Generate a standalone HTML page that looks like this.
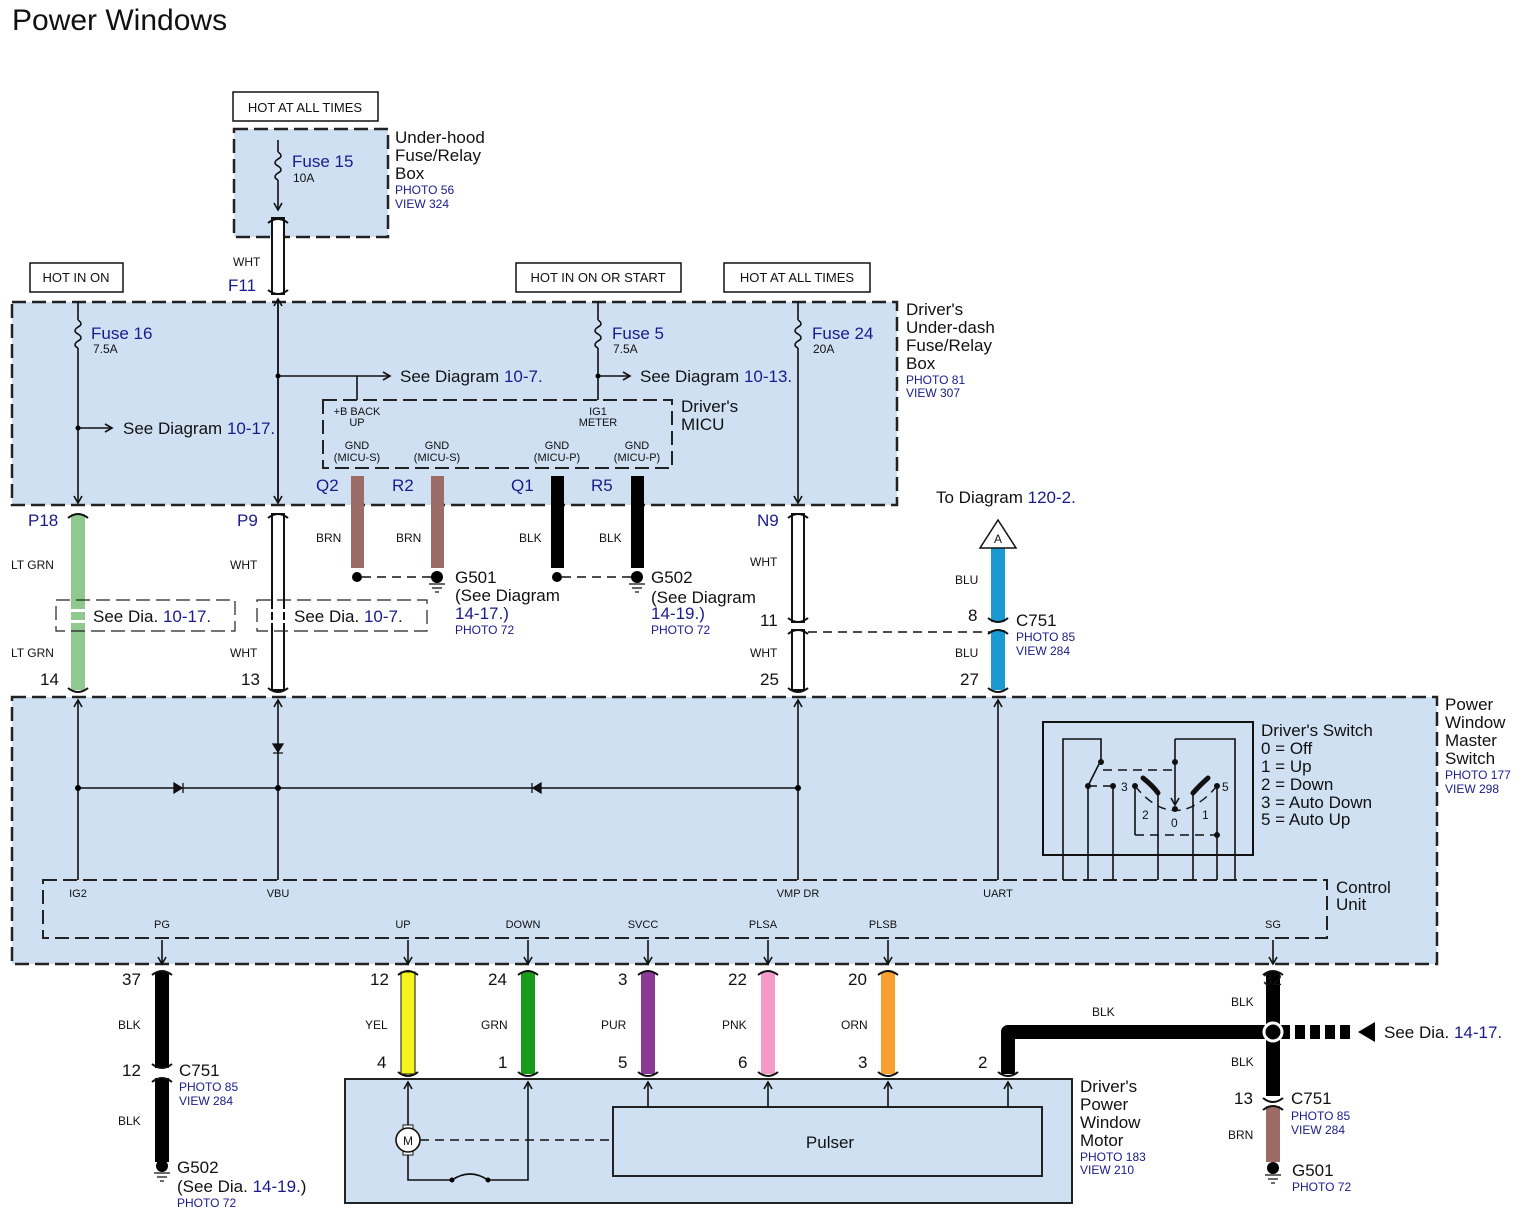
<!DOCTYPE html>
<html><head><meta charset="utf-8"><style>
html,body{margin:0;padding:0;background:#fff}
svg{display:block}
text{font-family:"Liberation Sans",Arial,sans-serif;fill:#111}
.b{fill:#1a1a8c}
.s12{font-size:12px}.s11{font-size:11px}.s17{font-size:17px}.s13{font-size:13px}
.box{fill:#cfe0f3;stroke:#222;stroke-width:2.5;stroke-dasharray:14 6}
.ln{stroke:#111;stroke-width:1.6;fill:none}
.dl{stroke:#111;stroke-width:1.4;fill:none;stroke-dasharray:9 6}
.cap{stroke:#111;stroke-width:2;fill:none}
</style></head><body>
<svg width="1536" height="1223" viewBox="0 0 1536 1223" xmlns="http://www.w3.org/2000/svg">
<defs>
<marker id="ar" markerWidth="10" markerHeight="10" refX="8" refY="5" orient="auto" markerUnits="userSpaceOnUse"><path d="M1 1 L8 5 L1 9" fill="none" stroke="#111" stroke-width="1.6"/></marker>
</defs>
<text x="12" y="30" style="font-size:30px">Power Windows</text>

<rect x="233" y="92" width="145" height="29" fill="#fff" stroke="#111" stroke-width="1.5"/>
<text x="305" y="112" class="s13" text-anchor="middle">HOT AT ALL TIMES</text>
<rect x="30" y="263" width="93" height="29" fill="#fff" stroke="#111" stroke-width="1.5"/>
<text x="76" y="282" class="s13" text-anchor="middle">HOT IN ON</text>
<rect x="516" y="263" width="165" height="29" fill="#fff" stroke="#111" stroke-width="1.5"/>
<text x="598" y="282" class="s13" text-anchor="middle">HOT IN ON OR START</text>
<rect x="724" y="263" width="146" height="29" fill="#fff" stroke="#111" stroke-width="1.5"/>
<text x="797" y="282" class="s13" text-anchor="middle">HOT AT ALL TIMES</text>

<rect x="234" y="129" width="154" height="108" class="box"/>
<path class="ln" d="M278 140 V152 M278 180 V210" marker-end="url(#ar)"/>
<path class="ln" d="M278 152 q6 4 0 7 q-6 4 0 7 q6 4 0 7 q-6 4 0 7"/>
<text x="292" y="167" class="s17 b">Fuse 15</text>
<text x="293" y="182" class="s12">10A</text>
<text x="395" y="143" class="s17">Under-hood</text>
<text x="395" y="161" class="s17">Fuse/Relay</text>
<text x="395" y="179" class="s17">Box</text>
<text x="395" y="194" class="s12 b">PHOTO 56</text>
<text x="395" y="208" class="s12 b">VIEW 324</text>
<rect x="272" y="218" width="12" height="76" fill="#fff" stroke="#111" stroke-width="2"/>
<path class="cap" d="M268 223 Q278 215 288 223 M268 290 Q278 298 288 290"/>
<text x="233" y="266" class="s12">WHT</text>
<text x="228" y="291" class="s17 b">F11</text>

<rect x="12" y="302" width="885" height="203" class="box"/>
<path class="ln" d="M78 302 V320 M78 348 V503" marker-end="url(#ar)"/>
<path class="ln" d="M78 320 q6 4 0 7 q-6 4 0 7 q6 4 0 7 q-6 4 0 7"/>
<text x="91" y="339" class="s17 b">Fuse 16</text><text x="93" y="353" class="s12">7.5A</text>
<path class="ln" d="M78 428 H112" marker-end="url(#ar)"/><circle cx="78" cy="428" r="2.5"/>
<text x="123" y="434" class="s17">See Diagram <tspan class="b">10-17.</tspan></text>
<path class="ln" d="M278 503 V299" marker-end="url(#ar)"/>
<path class="ln" d="M278 300 V503" marker-end="url(#ar)"/>
<path class="ln" d="M278 376 H390" marker-end="url(#ar)"/><circle cx="278" cy="376" r="2.5"/>
<text x="400" y="382" class="s17">See Diagram <tspan class="b">10-7.</tspan></text>
<path class="ln" d="M357 376 V400"/>
<path class="ln" d="M598 302 V320 M598 348 V400"/>
<path class="ln" d="M598 320 q6 4 0 7 q-6 4 0 7 q6 4 0 7 q-6 4 0 7"/>
<text x="612" y="339" class="s17 b">Fuse 5</text><text x="613" y="353" class="s12">7.5A</text>
<path class="ln" d="M598 376 H630" marker-end="url(#ar)"/><circle cx="598" cy="376" r="2.5"/>
<text x="640" y="382" class="s17">See Diagram <tspan class="b">10-13.</tspan></text>
<path class="ln" d="M798 302 V320 M798 348 V503" marker-end="url(#ar)"/>
<path class="ln" d="M798 320 q6 4 0 7 q-6 4 0 7 q6 4 0 7 q-6 4 0 7"/>
<text x="812" y="339" class="s17 b">Fuse 24</text><text x="813" y="353" class="s12">20A</text>
<rect x="323" y="400" width="349" height="68" class="box" style="stroke-width:2"/>
<g class="s11" text-anchor="middle">
<text x="357" y="415">+B BACK</text><text x="357" y="426">UP</text>
<text x="598" y="415">IG1</text><text x="598" y="426">METER</text>
<text x="357" y="449">GND</text><text x="357" y="461">(MICU-S)</text>
<text x="437" y="449">GND</text><text x="437" y="461">(MICU-S)</text>
<text x="557" y="449">GND</text><text x="557" y="461">(MICU-P)</text>
<text x="637" y="449">GND</text><text x="637" y="461">(MICU-P)</text>
</g>
<text x="681" y="412" class="s17">Driver's</text><text x="681" y="430" class="s17">MICU</text>
<text x="906" y="315" class="s17">Driver's</text>
<text x="906" y="333" class="s17">Under-dash</text>
<text x="906" y="351" class="s17">Fuse/Relay</text>
<text x="906" y="369" class="s17">Box</text>
<text x="906" y="384" class="s12 b">PHOTO 81</text>
<text x="906" y="397" class="s12 b">VIEW 307</text>

<rect x="351" y="476" width="13" height="92" fill="#9b6b66"/>
<rect x="431" y="476" width="13" height="92" fill="#9b6b66"/>
<rect x="551" y="476" width="13" height="92" fill="#000"/>
<rect x="631" y="476" width="13" height="92" fill="#000"/>
<text x="316" y="491" class="s17 b">Q2</text><text x="392" y="491" class="s17 b">R2</text>
<text x="511" y="491" class="s17 b">Q1</text><text x="591" y="491" class="s17 b">R5</text>
<text x="316" y="542" class="s12">BRN</text><text x="396" y="542" class="s12">BRN</text>
<text x="519" y="542" class="s12">BLK</text><text x="599" y="542" class="s12">BLK</text>
<circle cx="357" cy="577" r="5"/><circle cx="557" cy="577" r="5"/>
<path class="dl" d="M362 577 H432 M562 577 H632"/>
<circle cx="437" cy="577" r="6"/><path d="M429 584 H445 M432 588 H442 M435 592 H439" stroke="#111" stroke-width="1.3"/>
<circle cx="637" cy="577" r="6"/><path d="M629 584 H645 M632 588 H642 M635 592 H639" stroke="#111" stroke-width="1.3"/>
<text x="455" y="583" class="s17">G501</text><text x="455" y="601" class="s17">(See Diagram</text>
<text x="455" y="619" class="s17 b">14-17.)</text><text x="455" y="634" class="s12 b">PHOTO 72</text>
<text x="651" y="583" class="s17">G502</text><text x="651" y="603" class="s17">(See Diagram</text>
<text x="651" y="619" class="s17 b">14-19.)</text><text x="651" y="634" class="s12 b">PHOTO 72</text>

<rect x="71" y="514" width="14" height="176" fill="#8fc98f"/>
<rect x="272" y="514" width="12" height="176" fill="#fff" stroke="#111" stroke-width="2"/>
<rect x="792" y="514" width="12" height="108" fill="#fff" stroke="#111" stroke-width="2"/>
<rect x="792" y="630" width="12" height="60" fill="#fff" stroke="#111" stroke-width="2"/>
<rect x="991" y="548" width="14" height="74" fill="#1b9ad2"/>
<rect x="991" y="630" width="14" height="60" fill="#1b9ad2"/>
<path class="cap" d="M68 518 Q78 510 88 518 M68 688 Q78 696 88 688 M268 518 Q278 510 288 518 M268 688 Q278 696 288 688 M788 518 Q798 510 808 518 M788 618 Q798 626 808 618 M788 634 Q798 626 808 634 M788 688 Q798 696 808 688 M988 618 Q998 626 1008 618 M988 634 Q998 626 1008 634 M988 688 Q998 696 1008 688"/>
<path d="M998 520 L1016 548 H980 Z" fill="#fff" stroke="#111" stroke-width="1.5"/>
<text x="998" y="543" class="s12" text-anchor="middle">A</text>
<text x="936" y="503" class="s17">To Diagram <tspan class="b">120-2.</tspan></text>
<rect x="56" y="600" width="179" height="31" fill="none" stroke="#222" stroke-width="1.2" stroke-dasharray="14 6"/>
<rect x="257" y="600" width="170" height="31" fill="none" stroke="#222" stroke-width="1.2" stroke-dasharray="14 6"/>
<rect x="68" y="609" width="20" height="3" fill="#fff"/><rect x="68" y="620" width="20" height="3" fill="#fff"/>
<rect x="268" y="609" width="20" height="3" fill="#fff"/><rect x="268" y="620" width="20" height="3" fill="#fff"/>
<text x="93" y="622" class="s17">See Dia. <tspan class="b">10-17.</tspan></text>
<text x="294" y="622" class="s17">See Dia. <tspan class="b">10-7.</tspan></text>
<text x="28" y="526" class="s17 b">P18</text><text x="237" y="526" class="s17 b">P9</text><text x="757" y="526" class="s17 b">N9</text>
<text x="11" y="569" class="s12">LT GRN</text><text x="230" y="569" class="s12">WHT</text>
<text x="11" y="657" class="s12">LT GRN</text><text x="230" y="657" class="s12">WHT</text>
<text x="40" y="685" class="s17">14</text><text x="241" y="685" class="s17">13</text>
<text x="750" y="566" class="s12">WHT</text><text x="750" y="657" class="s12">WHT</text>
<text x="760" y="626" class="s17">11</text><text x="760" y="685" class="s17">25</text>
<text x="955" y="584" class="s12">BLU</text><text x="955" y="657" class="s12">BLU</text>
<text x="968" y="621" class="s17">8</text><text x="960" y="685" class="s17">27</text>
<text x="1016" y="626" class="s17">C751</text><text x="1016" y="641" class="s12 b">PHOTO 85</text><text x="1016" y="655" class="s12 b">VIEW 284</text>
<path class="dl" d="M808 632 H990"/>

<rect x="12" y="697" width="1425" height="267" class="box"/>
<text x="1445" y="710" class="s17">Power</text><text x="1445" y="728" class="s17">Window</text>
<text x="1445" y="746" class="s17">Master</text><text x="1445" y="764" class="s17">Switch</text>
<text x="1445" y="779" class="s12 b">PHOTO 177</text><text x="1445" y="793" class="s12 b">VIEW 298</text>
<path class="ln" d="M78 880 V700" marker-end="url(#ar)"/>
<path class="ln" d="M278 880 V700" marker-end="url(#ar)"/>
<path class="ln" d="M798 880 V700" marker-end="url(#ar)"/>
<path class="ln" d="M998 880 V700" marker-end="url(#ar)"/>
<path class="ln" d="M78 788 H798"/>
<circle cx="78" cy="788" r="3"/><circle cx="278" cy="788" r="3"/><circle cx="798" cy="788" r="3"/>
<path d="M174 783 L182 788 L174 793 Z M183 783 V793" fill="#111" stroke="#111" stroke-width="1.3"/>
<path d="M541 783 L533 788 L541 793 Z M532 783 V793" fill="#111" stroke="#111" stroke-width="1.3"/>
<path d="M273 744 L278 752 L283 744 Z M273 753 H283" fill="#111" stroke="#111" stroke-width="1.3"/>
<rect x="43" y="880" width="1284" height="58" class="box" style="stroke-width:2"/>
<g class="s11" text-anchor="middle">
<text x="78" y="897">IG2</text><text x="278" y="897">VBU</text><text x="798" y="897">VMP DR</text><text x="998" y="897">UART</text>
<text x="162" y="928">PG</text><text x="403" y="928">UP</text><text x="523" y="928">DOWN</text><text x="643" y="928">SVCC</text>
<text x="763" y="928">PLSA</text><text x="883" y="928">PLSB</text><text x="1273" y="928">SG</text>
</g>
<text x="1336" y="893" class="s17">Control</text><text x="1336" y="910" class="s17">Unit</text>
<rect x="1043" y="722" width="210" height="133" fill="none" stroke="#111" stroke-width="2"/>
<path class="ln" d="M1063 880 V739 H1101 V760 L1088 786 V880"/>
<path class="dl" d="M1088 786 H1113 M1103 770 H1175"/>
<path class="ln" d="M1113 786 V880 M1135 786 V835 M1158 793 V880 M1193 793 V880 M1217 786 V880 M1175 739 H1235 V880"/>
<path class="dl" d="M1135 835 H1217"/>
<path class="ln" d="M1175 739 V805" marker-end="url(#ar)"/>
<path class="dl" d="M1135 786 Q1175 835 1217 786"/>
<path d="M1143 778 Q1153 786 1158 793 M1193 793 Q1199 786 1208 778" stroke="#111" stroke-width="5" fill="none" stroke-linecap="round"/>
<g fill="#111"><circle cx="1101" cy="762" r="3"/><circle cx="1088" cy="786" r="3"/><circle cx="1113" cy="786" r="3"/><circle cx="1135" cy="786" r="3"/><circle cx="1217" cy="786" r="3"/><circle cx="1175" cy="762" r="3"/><circle cx="1175" cy="809" r="3"/><circle cx="1217" cy="835" r="3"/></g>
<text x="1121" y="791" class="s12">3</text><text x="1222" y="791" class="s12">5</text>
<text x="1142" y="819" class="s12">2</text><text x="1171" y="827" class="s12">0</text><text x="1202" y="819" class="s12">1</text>
<text x="1261" y="736" class="s17">Driver's Switch</text>
<text x="1261" y="754" class="s17">0 = Off</text><text x="1261" y="772" class="s17">1 = Up</text>
<text x="1261" y="790" class="s17">2 = Down</text><text x="1261" y="808" class="s17">3 = Auto Down</text>
<text x="1261" y="825" class="s17">5 = Auto Up</text>

<path class="ln" d="M162 940 V964" marker-end="url(#ar)"/>
<path class="ln" d="M408 940 V964" marker-end="url(#ar)"/>
<path class="ln" d="M528 940 V964" marker-end="url(#ar)"/>
<path class="ln" d="M648 940 V964" marker-end="url(#ar)"/>
<path class="ln" d="M768 940 V964" marker-end="url(#ar)"/>
<path class="ln" d="M888 940 V964" marker-end="url(#ar)"/>
<path class="ln" d="M1273 940 V964" marker-end="url(#ar)"/>
<rect x="155" y="972" width="14" height="96" fill="#000"/>
<rect x="155" y="1078" width="14" height="84" fill="#000"/>
<rect x="401" y="972" width="14" height="102" fill="#f5f51e" stroke="#111" stroke-width="1"/>
<rect x="521" y="972" width="14" height="102" fill="#1a9a1a"/>
<rect x="641" y="972" width="14" height="102" fill="#8b3a96"/>
<rect x="761" y="972" width="14" height="102" fill="#f39ac8"/>
<rect x="881" y="972" width="14" height="102" fill="#f7a030"/>
<rect x="1266" y="972" width="14" height="124" fill="#000"/>
<rect x="1266" y="1106" width="14" height="56" fill="#9b6b66"/>
<path d="M1008 1074 V1032 H1273" stroke="#000" stroke-width="14" fill="none" stroke-linejoin="round"/>
<path d="M1280 1032 H1355" stroke="#000" stroke-width="14" stroke-dasharray="10 5"/>
<path d="M1375 1022 L1358 1032 L1375 1042 Z" fill="#000"/>
<circle cx="1273" cy="1032" r="9" fill="#000" stroke="#fff" stroke-width="3"/>
<path class="cap" d="M152 975 Q162 967 172 975 M152 1064 Q162 1072 172 1064 M152 1082 Q162 1074 172 1082 M398 975 Q408 967 418 975 M398 1072 Q408 1080 418 1072 M518 975 Q528 967 538 975 M518 1072 Q528 1080 538 1072 M638 975 Q648 967 658 975 M638 1072 Q648 1080 658 1072 M758 975 Q768 967 778 975 M758 1072 Q768 1080 778 1072 M878 975 Q888 967 898 975 M878 1072 Q888 1080 898 1072 M998 1072 Q1008 1080 1018 1072 M1263 975 Q1273 967 1283 975 M1263 1098 Q1273 1106 1283 1098 M1263 1110 Q1273 1102 1283 1110"/>
<circle cx="162" cy="1166" r="6"/><path d="M154 1173 H170 M157 1177 H167 M160 1181 H164" stroke="#111" stroke-width="1.3"/>
<circle cx="1273" cy="1168" r="6"/><path d="M1265 1175 H1281 M1268 1179 H1278 M1271 1183 H1275" stroke="#111" stroke-width="1.3"/>
<text x="122" y="985" class="s17">37</text><text x="370" y="985" class="s17">12</text><text x="488" y="985" class="s17">24</text>
<text x="618" y="985" class="s17">3</text><text x="728" y="985" class="s17">22</text><text x="848" y="985" class="s17">20</text><text x="1263" y="985" class="s17">32</text>
<text x="118" y="1029" class="s12">BLK</text><text x="365" y="1029" class="s12">YEL</text><text x="481" y="1029" class="s12">GRN</text>
<text x="601" y="1029" class="s12">PUR</text><text x="722" y="1029" class="s12">PNK</text><text x="841" y="1029" class="s12">ORN</text>
<text x="377" y="1068" class="s17">4</text><text x="498" y="1068" class="s17">1</text><text x="618" y="1068" class="s17">5</text>
<text x="738" y="1068" class="s17">6</text><text x="858" y="1068" class="s17">3</text><text x="978" y="1068" class="s17">2</text>
<text x="122" y="1076" class="s17">12</text><text x="179" y="1076" class="s17">C751</text>
<text x="179" y="1091" class="s12 b">PHOTO 85</text><text x="179" y="1105" class="s12 b">VIEW 284</text>
<text x="118" y="1125" class="s12">BLK</text>
<text x="177" y="1173" class="s17">G502</text>
<text x="177" y="1192" class="s17">(See Dia. <tspan class="b">14-19.</tspan>)</text>
<text x="177" y="1207" class="s12 b">PHOTO 72</text>
<text x="1092" y="1016" class="s12">BLK</text><text x="1231" y="1006" class="s12">BLK</text><text x="1231" y="1066" class="s12">BLK</text>
<text x="1384" y="1038" class="s17">See  Dia. <tspan class="b">14-17.</tspan></text>
<text x="1234" y="1104" class="s17">13</text><text x="1291" y="1104" class="s17">C751</text>
<text x="1291" y="1120" class="s12 b">PHOTO 85</text><text x="1291" y="1134" class="s12 b">VIEW 284</text>
<text x="1228" y="1139" class="s12">BRN</text>
<text x="1292" y="1176" class="s17">G501</text><text x="1292" y="1191" class="s12 b">PHOTO 72</text>

<rect x="345" y="1079" width="727" height="124" fill="#cfe0f3" stroke="#222" stroke-width="2"/>
<rect x="613" y="1107" width="429" height="69" fill="none" stroke="#222" stroke-width="2"/>
<text x="830" y="1148" class="s17" text-anchor="middle">Pulser</text>
<path class="ln" d="M408 1126 V1082" marker-end="url(#ar)"/>
<path class="ln" d="M408 1154 V1180 H452 M488 1180 H528 V1082" marker-end="url(#ar)"/>
<path class="ln" d="M452 1180 Q470 1168 488 1180"/><circle cx="452" cy="1180" r="2.5"/><circle cx="488" cy="1180" r="2.5"/>
<rect x="403" y="1125" width="10" height="4" fill="#fff" stroke="#111"/><rect x="403" y="1151" width="10" height="4" fill="#fff" stroke="#111"/>
<circle cx="408" cy="1140" r="12" fill="#fff" stroke="#111" stroke-width="1.6"/>
<text x="408" y="1145" class="s12" text-anchor="middle">M</text>
<path class="dl" d="M420 1140 H613"/>
<path class="ln" d="M648 1107 V1082" marker-end="url(#ar)"/>
<path class="ln" d="M768 1107 V1082" marker-end="url(#ar)"/>
<path class="ln" d="M888 1107 V1082" marker-end="url(#ar)"/>
<path class="ln" d="M1008 1107 V1082" marker-end="url(#ar)"/>
<text x="1080" y="1092" class="s17">Driver's</text><text x="1080" y="1110" class="s17">Power</text>
<text x="1080" y="1128" class="s17">Window</text><text x="1080" y="1146" class="s17">Motor</text>
<text x="1080" y="1161" class="s12 b">PHOTO 183</text><text x="1080" y="1174" class="s12 b">VIEW 210</text>
</svg>
</body></html>
